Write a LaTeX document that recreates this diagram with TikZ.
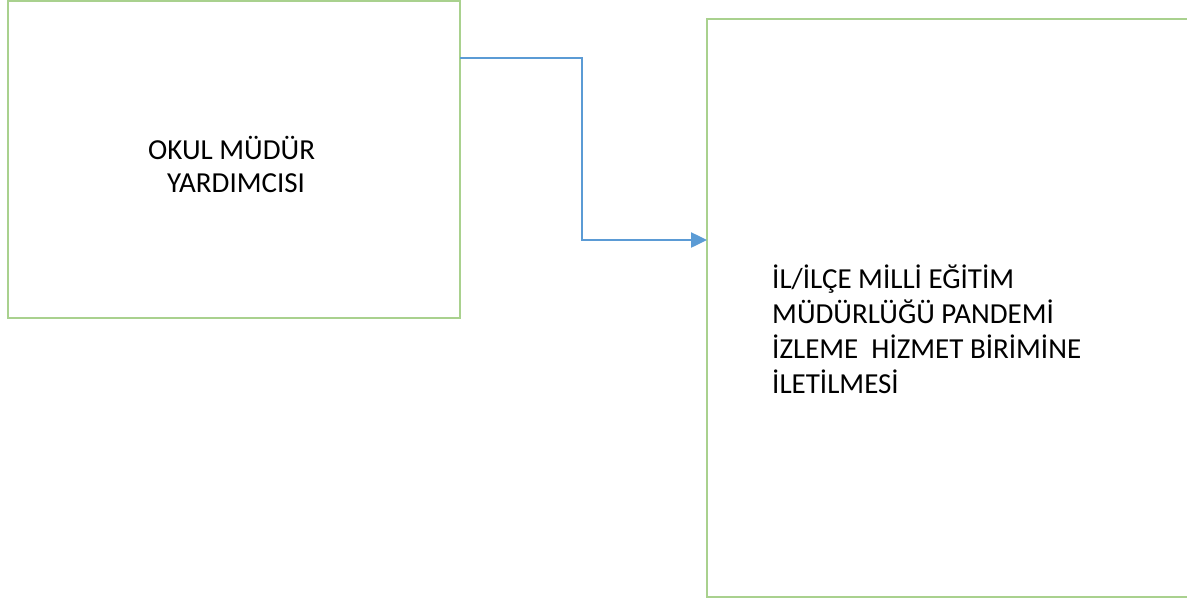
\documentclass[tikz,border=0pt]{standalone}
\usepackage{fontspec}
\setmainfont{Carlito}
\usetikzlibrary{arrows.meta}
\definecolor{boxgreen}{RGB}{169,209,142}
\definecolor{arrowblue}{RGB}{91,155,213}
\begin{document}
\begin{tikzpicture}[x=1pt,y=-1pt,
  box/.style={draw=boxgreen,line width=2.5pt,inner sep=0pt,outer sep=0pt,anchor=north west},
  lbl/.style={align=left,inner sep=0pt,anchor=base west,text=black},
  conn/.style={draw=arrowblue,line width=2.5pt,-{Triangle[length=16pt,width=15pt]}}]
\clip (0,0) rectangle (1187,598);
\fill[white] (0,0) rectangle (1187,598);
\node[box,minimum width=452pt,minimum height=317pt] (a) at (8,1) {};
\node[box,minimum width=520pt,minimum height=578pt] (b) at (707,19) {};
\node[lbl,font=\fontsize{29}{33}\selectfont] (ta) at (148,192) {OKUL MÜDÜR\\\hspace*{19pt}YARDIMCISI};
\node[lbl,font=\fontsize{29}{35}\selectfont] (tb) at (772,393) {İL/İLÇE MİLLİ EĞİTİM\\MÜDÜRLÜĞÜ PANDEMİ\\İZLEME\ \ HİZMET BİRİMİNE\\İLETİLMESİ};
\draw[conn] (a.north east) ++(0,57) -- ++(122,0) |- (b.west |- 0,240);
\end{tikzpicture}
\end{document}
